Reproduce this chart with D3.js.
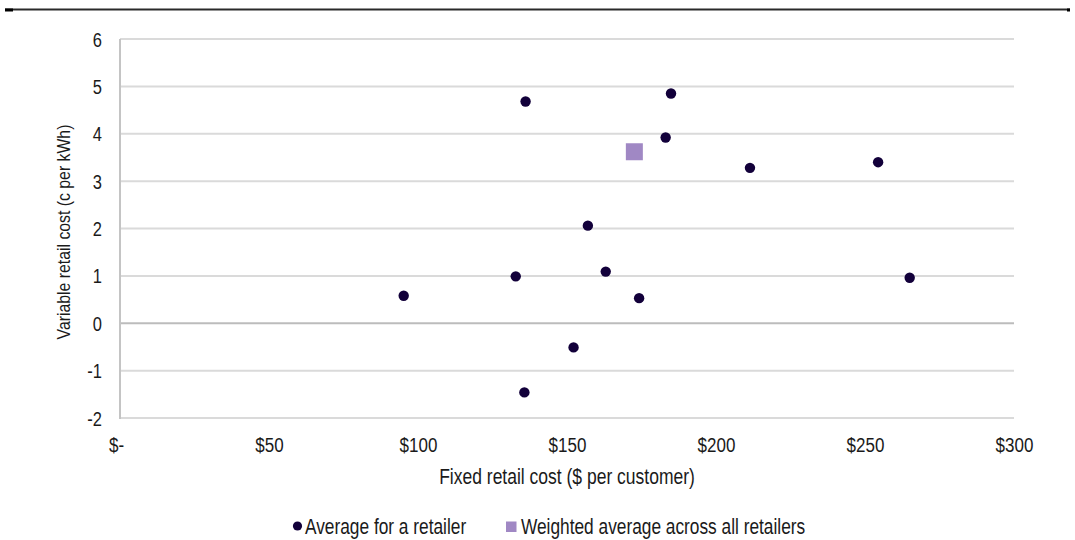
<!DOCTYPE html>
<html><head><meta charset="utf-8">
<script src="https://cdn.jsdelivr.net/npm/d3@7"></script>
<style>body{margin:0;background:#fff;} svg{display:block;} text{font-family:"Liberation Sans",Arial,sans-serif;fill:#1a1a1a;}</style>
</head><body><svg id="c" width="1075" height="540"></svg>
<script>
// Average for a retailer: fixed cost ($ per customer), variable cost (c per kWh)
const retailerFixed    = [136.1, 184.9, 183.1, 157.0, 132.8, 163.0, 95.2, 174.2, 152.2, 135.7, 211.4, 254.4, 265.0];
const retailerVariable = [4.68, 4.85, 3.92, 2.06, 0.99, 1.09, 0.58, 0.53, -0.51, -1.46, 3.28, 3.40, 0.96];
// Weighted average across all retailers
const weightedFixed    = [172.6];
const weightedVariable = [3.62];
const xTicks = [0, 50, 100, 150, 200, 250, 300];
const yTicks = [-2, -1, 0, 1, 2, 3, 4, 5, 6];
const seriesNames = ["Average for a retailer", "Weighted average across all retailers"];

const svg = d3.select("#c");
const M = {left:120, right:1014, top:39, bottom:418};
const x = d3.scaleLinear().domain([0,300]).range([M.left, M.right]);
const y = d3.scaleLinear().domain([-2,6]).range([M.bottom, M.top]);
const FONT = "Liberation Sans, Arial, sans-serif";

// tall text helper: baseline at (tx,ty), stretched vertically by sy
function tallText(g, tx, ty, str, fs, sy, anchor){
  return g.append("text").attr("transform",`translate(${tx},${ty}) scale(1,${sy})`)
    .attr("text-anchor",anchor||"start").attr("font-size",fs).attr("font-family",FONT).attr("fill","#1a1a1a").text(str);
}

// top rule
svg.append("line").attr("x1",5).attr("x2",1070).attr("y1",9.5).attr("y2",9.5).attr("stroke","#2a2a2a").attr("stroke-width",2);
svg.append("line").attr("x1",5).attr("x2",13).attr("y1",10).attr("y2",10).attr("stroke","#000").attr("stroke-width",3);
svg.append("line").attr("x1",1067).attr("x2",1070).attr("y1",10).attr("y2",10).attr("stroke","#000").attr("stroke-width",3);

// gridlines
svg.append("g").selectAll("line").data(yTicks).join("line")
  .attr("x1",M.left).attr("x2",M.right)
  .attr("y1",d=>y(d)).attr("y2",d=>y(d))
  .attr("stroke",d=>d===0?"#bcbcbc":"#dadada").attr("stroke-width",2);
// y axis line
svg.append("line").attr("x1",M.left).attr("x2",M.left).attr("y1",M.top).attr("y2",M.bottom+1)
  .attr("stroke","#c4c4c4").attr("stroke-width",2);

// y axis labels
const ya = svg.append("g").attr("transform",`translate(${M.left-18},0)`)
  .call(d3.axisLeft(y).tickValues(yTicks).tickSize(0).tickPadding(0).tickFormat(d=>String(d)));
ya.select(".domain").remove();
ya.selectAll("text").attr("x",0).attr("y",0).attr("dy",null)
  .attr("transform","translate(0,7) scale(1,1.27)")
  .attr("font-size",16.5).attr("font-family",FONT).attr("fill","#1a1a1a");

// x axis labels
const xa = svg.append("g").attr("transform",`translate(0,${M.bottom})`)
  .call(d3.axisBottom(x).tickValues(xTicks).tickSize(0).tickPadding(0).tickFormat(d=>d===0?"$-":"$"+d));
xa.select(".domain").remove();
xa.selectAll("text").attr("y",0).attr("dy",null)
  .attr("transform","translate(0,34) scale(1,1.22)")
  .attr("font-size",17).attr("font-family",FONT).attr("fill","#1a1a1a");
xa.selectAll(".tick").filter(d=>d===0).select("text").attr("x",-4);

// axis titles
tallText(svg, (M.left+M.right)/2, 483.5, "Fixed retail cost ($ per customer)", 17.5, 1.24, "middle");
svg.append("text").attr("transform",`translate(69.5,232) rotate(-90) scale(1,1.16)`).attr("text-anchor","middle")
  .attr("font-size",15.8).attr("font-family",FONT).text("Variable retail cost (c per kWh)");

// points
const dotColor = "#12003a", sqColor = "#a088c4";
svg.append("g").selectAll("circle").data(retailerFixed.map((f,i)=>[f,retailerVariable[i]])).join("circle")
  .attr("cx",d=>x(d[0])).attr("cy",d=>y(d[1])).attr("r",5.2).attr("fill",dotColor);
const sq = 17;
svg.append("g").selectAll("rect").data(weightedFixed.map((f,i)=>[f,weightedVariable[i]])).join("rect")
  .attr("x",d=>x(d[0])-sq/2).attr("y",d=>y(d[1])-sq/2).attr("width",sq).attr("height",sq).attr("fill",sqColor);

// legend
const lg = svg.append("g");
lg.append("circle").attr("cx",297.5).attr("cy",526).attr("r",4.6).attr("fill",dotColor);
tallText(lg, 305, 534, seriesNames[0], 17.3, 1.28);
lg.append("rect").attr("x",506).attr("y",521.5).attr("width",10.5).attr("height",10.5).attr("fill",sqColor);
tallText(lg, 521, 534, seriesNames[1], 17.3, 1.28);
</script></body></html>
